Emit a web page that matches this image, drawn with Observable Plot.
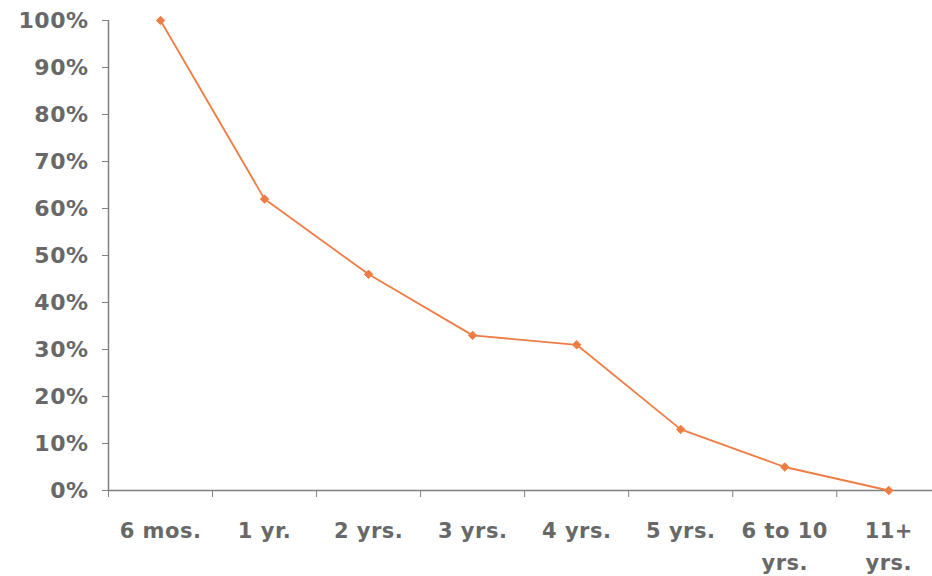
<!DOCTYPE html>
<html><head><meta charset="utf-8">
<script src="https://cdn.jsdelivr.net/npm/d3@7"></script>
<script src="https://cdn.jsdelivr.net/npm/@observablehq/plot@0.6"></script>
<style>
body{margin:0;background:#fff;}
#chart svg text{letter-spacing:0.5px;}
</style></head><body><div id="chart"></div>
<script>
const categories = ["6 mos.", "1 yr.", "2 yrs.", "3 yrs.", "4 yrs.", "5 yrs.", "6 to 10\nyrs.", "11+\nyrs."];
const values = [100, 62, 46, 33, 31, 13, 5, 0];
const yTicks = [0, 10, 20, 30, 40, 50, 60, 70, 80, 90, 100];
const catIndex = [0, 1, 2, 3, 4, 5, 6, 7];
const boundaries = [-0.5, 0.5, 1.5, 2.5, 3.5, 4.5, 5.5, 6.5];

const data = categories.map((c, i) => ({i, c, v: values[i]}));

const textColor = "#686868";
const axisColor = "#808080";
const lineColor = "#ee7d45";

const plot = Plot.plot({
  width: 932,
  height: 576,
  marginLeft: 108,
  marginRight: 0,
  marginTop: 20,
  marginBottom: 86,
  style: {fontFamily: "DejaVu Sans", fontWeight: "bold", color: textColor, background: "#fff"},
  x: {domain: [-0.5, 7.42], axis: null},
  y: {domain: [0, 100], axis: null},
  marks: [
    Plot.ruleX([-0.5], {y1: 0, y2: 100, stroke: axisColor, strokeWidth: 1.5}),
    Plot.ruleY([0], {stroke: axisColor, strokeWidth: 1.5}),
    Plot.axisY({ticks: yTicks, tickFormat: d => d + "%", label: null, tickSize: 6, tickPadding: 14, fontSize: 22, stroke: axisColor, strokeOpacity: 1, fill: textColor}),
    Plot.axisX({ticks: boundaries, tickFormat: () => "", label: null, tickSize: 7, stroke: axisColor, strokeOpacity: 1}),
    Plot.axisX({ticks: catIndex, tickFormat: i => categories[i], label: null, tickSize: 0, tickPadding: 24, fontSize: 21, lineHeight: 1.55, fill: textColor}),
    Plot.line(data, {x: "i", y: "v", stroke: lineColor, strokeWidth: 1.8}),
    Plot.dot(data, {x: "i", y: "v", symbol: "diamond2", r: 3.8, fill: lineColor, stroke: lineColor, strokeWidth: 1})
  ]
});
document.getElementById("chart").appendChild(plot);
</script></body></html>
